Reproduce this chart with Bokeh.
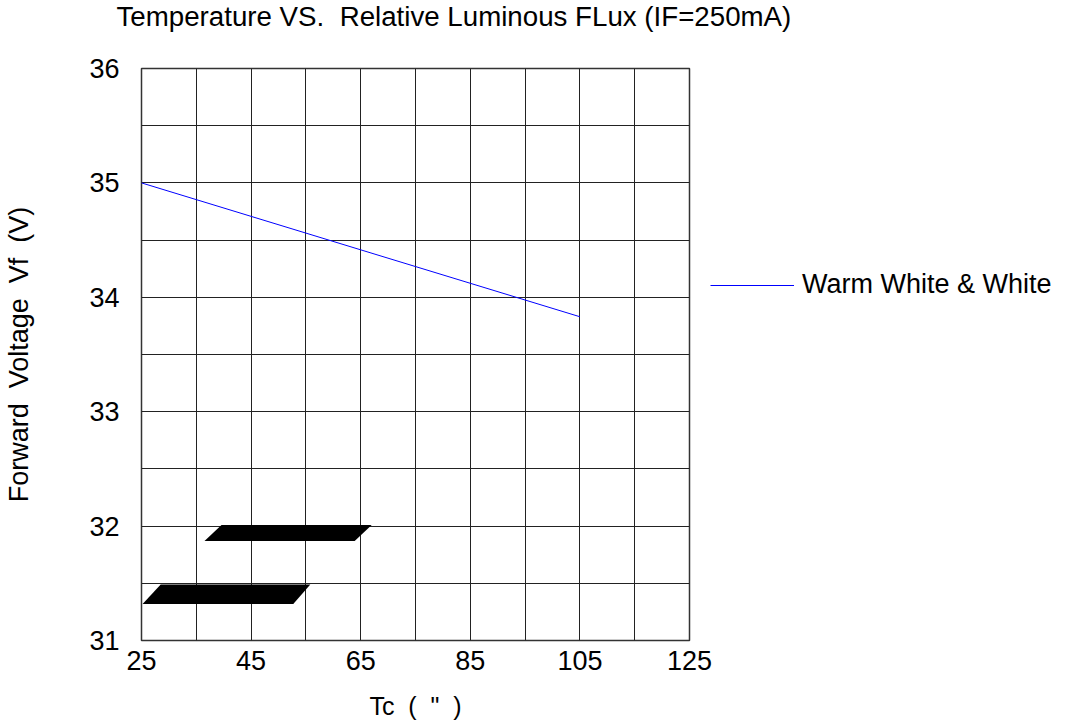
from bokeh.plotting import figure
from bokeh.models import FixedTicker, Legend, LegendItem, PolyAnnotation, Range1d, Title
from bokeh.embed import file_html
from bokeh.resources import INLINE

NB = "\u00a0"
# ---- texts ----
title_text = "Temperature VS." + NB + " Relative Luminous FLux (IF=250mA)"
x_label = "Tc" + NB + " (" + NB + " \"" + NB + " )"
y_label = "Forward" + NB + " Voltage" + NB + " Vf" + NB + " (V)"
series_name = "Warm White & White"

# ---- data ----
tc = [25, 105]
vf = [35.0, 33.83]

x_ticks = [25, 45, 65, 85, 105, 125]
x_grid = [25, 35, 45, 55, 65, 75, 85, 95, 105, 115, 125]
y_ticks = [31, 32, 33, 34, 35, 36]
y_grid = [31, 31.5, 32, 32.5, 33, 33.5, 34, 34.5, 35, 35.5, 36]

# black redaction bars seen on the picture (data units)
bar_a_x = [39.6, 67.0, 63.9, 36.5]
bar_a_y = [32.01, 32.01, 31.87, 31.87]
bar_b_x = [28.5, 55.8, 52.7, 25.2]
bar_b_y = [31.49, 31.49, 31.32, 31.32]

FONT = "Liberation Sans"

p = figure(frame_width=548, frame_height=572, output_backend="svg", toolbar_location=None,
           x_range=Range1d(25, 125), y_range=Range1d(31, 36),
           min_border_left=141, min_border_right=0, min_border_top=0, min_border_bottom=0)
p.background_fill_color = "white"
p.border_fill_color = "white"
p.outline_line_color = "#333333"
p.outline_line_width = 1.5

p.xaxis.ticker = FixedTicker(ticks=x_ticks)
p.yaxis.ticker = FixedTicker(ticks=y_ticks)
p.xgrid.ticker = FixedTicker(ticks=x_grid)
p.ygrid.ticker = FixedTicker(ticks=y_grid)
for g in (p.xgrid, p.ygrid):
    g.grid_line_color = "#222222"
    g.grid_line_width = 1
for ax in (p.xaxis, p.yaxis):
    ax.axis_line_color = None
    ax.major_tick_line_color = None
    ax.minor_tick_line_color = None
    ax.major_tick_in = 0
    ax.major_tick_out = 0
    ax.major_label_text_font = FONT
    ax.major_label_text_font_size = "27px"
    ax.major_label_text_color = "black"
    ax.axis_label_text_font = FONT
    ax.axis_label_text_font_style = "normal"
    ax.axis_label_text_color = "black"
p.xaxis.major_label_standoff = 10
p.yaxis.major_label_standoff = 22

p.xaxis.axis_label = x_label
p.xaxis.axis_label_text_font_size = "25px"
p.xaxis.axis_label_standoff = 19
p.yaxis.axis_label = y_label
p.yaxis.axis_label_text_font_size = "27px"
p.yaxis.axis_label_standoff = 52

r = p.line(tc, vf, line_color="#0000ff", line_width=1)

legend = Legend(items=[LegendItem(label=series_name, renderers=[r])],
                location=(21, 340), orientation="vertical")
legend.border_line_color = None
legend.background_fill_alpha = 0
legend.padding = 0
legend.margin = 0
legend.spacing = 0
legend.glyph_width = 84
legend.glyph_height = 26
legend.label_height = 26
legend.label_standoff = 8
legend.label_text_font = FONT
legend.label_text_font_size = "27px"
legend.label_text_color = "black"
p.add_layout(legend, "right")

for bx, by in ((bar_a_x, bar_a_y), (bar_b_x, bar_b_y)):
    p.add_layout(PolyAnnotation(xs=bx, ys=by, fill_color="black", fill_alpha=1,
                                line_color="black", line_width=0))

# main title (outermost slot)
p.title.text = title_text
p.title.align = "left"
p.title.offset = -25
p.title.standoff = 0
p.title.vertical_align = "top"
p.title.text_font = FONT
p.title.text_font_size = "27.7px"
p.title.text_font_style = "normal"
p.title.text_color = "black"

# blank spacer between the title and the plot frame
p.add_layout(Title(text=NB, text_font_size="10px", standoff=22), "above")

open("out.html", "w").write(file_html(p, INLINE))
